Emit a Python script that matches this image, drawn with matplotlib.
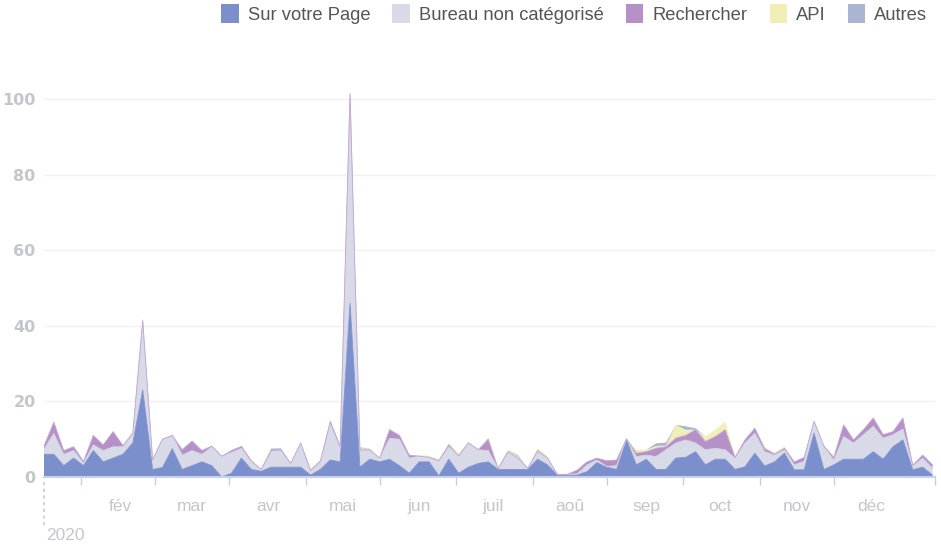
import numpy as np
import pandas as pd
import matplotlib
matplotlib.use("Agg")
import matplotlib.pyplot as plt
from matplotlib import font_manager
from matplotlib.patches import FancyBboxPatch

# ---------------- data (one point every 4 days, starting 2020-01-01) ----------------
start_date = "2020-01-01"
n_points = 91
sur_votre_page = [6, 6, 3, 5, 3, 7, 4, 5, 6, 9,
                  23, 2, 2.5, 7.5, 2, 3, 4, 3, 0, 1,
                  5, 2, 1.5, 2.6, 2.6, 2.6, 2.6, 0.5, 2, 4.5,
                  4, 46, 2.6, 4.7, 4, 4.7, 3, 1, 4, 4,
                  0.3, 4.7, 1, 2.6, 3.6, 4, 2, 2, 2, 2,
                  4.7, 3.2, 0.5, 0.5, 0.5, 1.4, 3.8, 2.6, 2, 9.8,
                  3.2, 4.7, 2, 2, 5, 5.2, 6.7, 3.2, 4.7, 4.7,
                  2, 2.7, 6.3, 2.9, 4, 6.3, 1.9, 1.9, 11.6, 2,
                  3.2, 4.7, 4.7, 4.7, 6.7, 4.7, 8, 9.8, 1.9, 2.6,
                  0.5]
bureau = [1.4, 5.5, 3, 2, 0.7, 1.5, 3, 3, 2, 2.5,
          18, 2.5, 7.5, 3.5, 3.8, 4, 2, 5, 5.5, 5.5,
          2.6, 2, 0.5, 4.4, 4.5, 1, 6.4, 1, 2, 9.5,
          3.6, 55, 4.5, 2.5, 1, 5.5, 7, 4, 1.5, 1.2,
          4, 3.3, 4.6, 6.4, 3.6, 3, 0.2, 4.7, 3, 0.3,
          2, 1.8, 0.2, 0.2, 0.3, 1.8, 0.7, 0.2, 1, 0.3,
          2.2, 1.1, 3.4, 5.2, 4, 4.6, 2.3, 4, 2.9, 2.5,
          3, 6.3, 5.3, 3.8, 1.8, 0.9, 1.3, 2.3, 3.1, 6,
          1.3, 6, 4.3, 6.5, 6.7, 5.6, 3.2, 2.9, 1, 2.4,
          1.8]
rechercher = [0.8, 3, 1, 1, 0.4, 2.5, 1.5, 4, 0.3, 0.2,
              0.5, 0, 0, 0, 1.4, 2.5, 1, 0.2, 0, 0.5,
              0.5, 0.3, 0, 0, 0, 0, 0, 0.3, 0.3, 0.7,
              0.6, 0.5, 0, 0, 0, 2.3, 1, 0.8, 0, 0,
              0, 0.5, 0, 0, 0, 3, 0, 0, 0, 0,
              0.3, 0, 0, 0, 1, 0.8, 0.5, 1.5, 1.5, 0,
              0.9, 0.9, 2.2, 0.8, 1.3, 1.2, 3.5, 2.2, 3.1, 5.3,
              0.2, 0.8, 1.3, 0.8, 0.3, 0.4, 0.8, 1, 0, 0.2,
              0.7, 3.1, 0.8, 1.3, 2.2, 0.9, 0.8, 2.9, 0.2, 0.8,
              0.9]
api = [0, 0, 0, 0, 0, 0, 0, 0, 0, 0,
       0, 0, 0, 0, 0, 0, 0, 0, 0, 0,
       0, 0, 0, 0, 0, 0, 0, 0, 0, 0,
       0, 0, 0.4, 0.4, 0, 0.4, 0, 0, 0.3, 0.4,
       0.4, 0.5, 0.6, 0.3, 0, 0.4, 0.3, 0.5, 0.5, 0,
       0.6, 0.5, 0, 0, 0, 0, 0, 0, 0, 0,
       0.9, 0.5, 0.6, 0.3, 3.5, 1.5, 0, 1.3, 1.8, 2.2,
       0, 0, 0, 0.5, 0.2, 0.5, 0, 0, 0, 0,
       0, 0, 0, 0, 0, 0, 0, 0, 0, 0,
       0]
autres = [0, 0, 0, 0, 0, 0, 0, 0, 0, 0,
          0, 0, 0, 0, 0, 0, 0, 0, 0, 0,
          0, 0, 0, 0.5, 0.5, 0, 0, 0, 0, 0,
          0, 0, 0.3, 0, 0, 0, 0, 0, 0, 0,
          0, 0, 0, 0, 0, 0, 0, 0, 0.3, 0,
          0, 0, 0, 0, 0, 0, 0, 0, 0, 0,
          0, 0, 0.7, 0.8, 0, 0.9, 0.4, 0, 0, 0,
          0, 0, 0, 0, 0, 0, 0, 0, 0, 0,
          0, 0, 0, 0, 0, 0, 0, 0, 0, 0,
          0]

series_names = ["Sur votre Page", "Bureau non catégorisé", "Rechercher", "API", "Autres"]
series_colors = ["#7b8fcc", "#d8dae8", "#b691c8", "#f1eeb6", "#a9b5d1"]
edge_colors = ["#7b8fcc", "#d0d3e4", "#c4a6d3"]

month_labels = ["fév", "mar", "avr", "mai", "jun", "juil", "aoû", "sep", "oct", "nov", "déc"]
month_starts = ["2020-02-01", "2020-03-01", "2020-04-01", "2020-05-01", "2020-06-01",
                "2020-07-01", "2020-08-01", "2020-09-01", "2020-10-01", "2020-11-01",
                "2020-12-01"]
tick_marks = ["2020-01-16", "2020-02-15", "2020-03-16", "2020-04-16", "2020-05-16",
              "2020-06-16", "2020-07-17", "2020-08-16", "2020-09-16", "2020-10-17",
              "2020-11-16", "2020-12-27"]
y_ticks = [0, 20, 40, 60, 80, 100]
year_label = "2020"

# ---------------- figure ----------------
def pick(fams):
    avail = {f.name for f in font_manager.fontManager.ttflist}
    return [f for f in fams if f in avail] + ["DejaVu Sans"]

narrow = pick(["Liberation Sans Narrow", "Liberation Sans"])

t0 = pd.Timestamp(start_date)
dates = pd.date_range(start_date, periods=n_points, freq="4D")
x = np.array((dates - t0).days, dtype=float)

def day(s):
    return (pd.Timestamp(s) - t0).days

W, H = 941, 546
fig = plt.figure(figsize=(W / 100, H / 100), dpi=100)
ax = fig.add_axes([44 / W, (546 - 477) / H, (935 - 44) / W, 397 / H])

ys = [np.array(s, dtype=float) for s in
      (sur_votre_page, bureau, rechercher, api, autres)]
ax.stackplot(x, *ys, colors=series_colors, labels=series_names,
             edgecolor=None, linewidth=0)
# thin outlines on top of the three main layers
cum = np.zeros(n_points)
for s, ec in zip(ys[:3], edge_colors):
    cum = cum + s
    ax.plot(x, cum, color=ec, lw=0.6, zorder=1.5)

ax.set_xlim(0, day("2020-12-27"))
ax.set_ylim(0, 105)

for yv in y_ticks[1:]:
    ax.axhline(yv, color="#f1f1f3", lw=1.0, zorder=0)

ax.set_yticks(y_ticks)
ax.set_yticklabels([str(v) for v in y_ticks], fontsize=11.5, color="#c3c6cd",
                   fontweight="bold")
ax.tick_params(axis="y", length=0, pad=6)

ax.set_xticks([day(d) for d in month_starts])
ax.set_xticklabels(month_labels, fontsize=12.5, color="#c3c6cd", family=narrow)
ax.tick_params(axis="x", length=0, pad=16)
ax.set_xticks([day(d) for d in tick_marks], minor=True)
ax.tick_params(axis="x", which="minor", length=6, width=1.0, color="#c9cdd8")

for sp in ["top", "right", "left"]:
    ax.spines[sp].set_visible(False)
ax.spines["bottom"].set_color("#c9d2ea")
ax.spines["bottom"].set_linewidth(1.5)
ax.spines["bottom"].set_zorder(2.5)
ax.set_axisbelow(True)

trans = ax.get_xaxis_transform()
ax.plot([0, 0], [-0.013, -0.125], transform=trans, color="#c9cdd8", lw=1.2,
        ls=(0, (2, 2)), clip_on=False)
ax.text(8.5, -0.147, year_label, transform=trans, ha="center", va="center",
        fontsize=12.5, color="#c3c6cd", family=narrow)

leg = fig.legend(loc="upper right", bbox_to_anchor=(1.003, 1.022), ncol=5, frameon=False,
                 prop={"family": narrow, "size": 13.2}, handlelength=0.95,
                 handleheight=1.2, handletextpad=0.5, columnspacing=1.2,
                 labelcolor="#555555")
for h in leg.legend_handles:
    h.set_edgecolor("none")

fig.savefig("out.png", dpi=100, facecolor="white")
